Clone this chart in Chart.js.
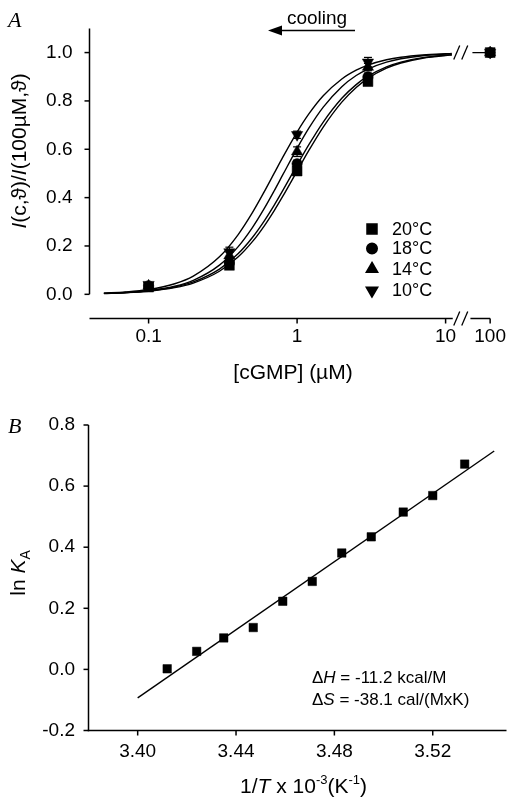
<!DOCTYPE html>
<html><head><meta charset="utf-8">
<script src="https://cdn.jsdelivr.net/npm/chart.js@4.4.1/dist/chart.umd.min.js"></script>
<style>
html,body{margin:0;padding:0;background:#fff;}
#wrap{position:relative;width:513px;height:798px;overflow:hidden;background:#fff;}
#c1{position:absolute;left:0;top:0;}
#c2{position:absolute;left:0;top:398px;}
</style></head><body>
<div id="wrap"><canvas id="c1" width="513" height="398"></canvas><canvas id="c2" width="513" height="400"></canvas></div>
<script>
// ---------- Panel A data ----------
const cgmpConc = [0.1, 0.35, 1, 3, 100];
const norm20 = [0.03, 0.12, 0.51, 0.88, 1.0];
const norm18 = [0.035, 0.13, 0.54, 0.90, 1.0];
const norm14 = [0.035, 0.16, 0.59, 0.94, 1.0];
const norm10 = [0.04, 0.175, 0.66, 0.96, 1.0];
const err20 = [0.005, 0.01, 0.015, 0.015, 0];
const err18 = [0.005, 0.01, 0.015, 0.015, 0];
const err14 = [0.005, 0.015, 0.02, 0.015, 0];
const err10 = [0.005, 0.02, 0.015, 0.02, 0];
const tempLabels = ['20°C', '18°C', '14°C', '10°C'];

// fitted curves
const fitConc = [0.05,0.07,0.1,0.15,0.2,0.3,0.4,0.5,0.6,0.7,0.8,1.0,1.2,1.5,2,2.5,3,4,5,7,10,11];
const fit20 = [0.0035,0.0066,0.0129,0.0275,0.0466,0.0954,0.1541,0.2178,0.2825,0.3454,0.4048,0.5096,0.5951,0.6919,0.795,0.8556,0.8934,0.9354,0.9567,0.9767,0.988,0.99];
const fit18 = [0.0039,0.0073,0.0142,0.0303,0.0512,0.1044,0.1675,0.2352,0.3031,0.3682,0.429,0.5344,0.6188,0.7126,0.8108,0.8675,0.9025,0.9411,0.9607,0.9789,0.9891,0.9909];
const fit14 = [0.0038,0.0074,0.015,0.0332,0.0575,0.1206,0.1961,0.2759,0.3543,0.4275,0.4938,0.6038,0.687,0.7742,0.8591,0.905,0.932,0.9606,0.9744,0.9868,0.9935,0.9946];
const fit10 = [0.0051,0.0099,0.02,0.0439,0.0755,0.1552,0.2462,0.3378,0.4235,0.5,0.5664,0.6711,0.7461,0.8212,0.8909,0.9273,0.9484,0.9703,0.9808,0.9901,0.9951,0.996];
const afterBreakConc = [40, 100];
const afterBreakLevel = [1.0, 1.0];

const topXTickConc = [0.04,0.05,0.06,0.07,0.08,0.09,0.1,0.2,0.3,0.4,0.5,0.6,0.7,0.8,0.9,1,2,3,4,5,6,7,8,9,10,60,80,100];
const topXLabelled = [0.1, 1, 10, 100];
const topYTicks = [0,0.1,0.2,0.3,0.4,0.5,0.6,0.7,0.8,0.9,1.0,1.1];
const axisBreak = [11, 40];

// ---------- Panel B data ----------
const invT = [3.412, 3.424, 3.435, 3.447, 3.459, 3.471, 3.483, 3.495, 3.508, 3.520, 3.533];
const lnKA = [0.002, 0.059, 0.103, 0.137, 0.223, 0.288, 0.381, 0.434, 0.515, 0.569, 0.672];
const lineInvT = [3.40, 3.545];
const lineLnKA = [-0.093, 0.715];
const botXTicks = [3.38,3.40,3.42,3.44,3.46,3.48,3.50,3.52,3.54];
const botXLabelled = [3.40, 3.44, 3.48, 3.52];
const botYTicks = [-0.2,-0.1,0,0.1,0.2,0.3,0.4,0.5,0.6,0.7,0.8];

// ---------- helpers ----------
const SANS = '"Liberation Sans", Arial, "DejaVu Sans", sans-serif';
const SERIF = '"Liberation Serif", "Times New Roman", serif';
function toU(c) { return c <= 11 ? Math.log10(c) : 1.30 - (2 - Math.log10(c)) * 0.3; }
const isEvenTenth = v => Math.round(v * 10) % 2 === 0;

function drawRich(ctx, parts, cx, cy, rot) {
  ctx.save();
  ctx.translate(cx, cy);
  if (rot) ctx.rotate(-Math.PI / 2);
  let w = 0;
  parts.forEach(p => { ctx.font = p.f; p.w = ctx.measureText(p.t).width; w += p.w; });
  let x = -w / 2;
  ctx.textBaseline = 'alphabetic'; ctx.textAlign = 'left'; ctx.fillStyle = '#000';
  parts.forEach(p => { ctx.font = p.f; ctx.fillText(p.t, x, p.dy || 0); x += p.w; });
  ctx.restore();
}
function drawRichLeft(ctx, parts, x, y) {
  ctx.save();
  ctx.textBaseline = 'alphabetic'; ctx.textAlign = 'left'; ctx.fillStyle = '#000';
  parts.forEach(p => { ctx.font = p.f; ctx.fillText(p.t, x, y + (p.dy || 0)); x += ctx.measureText(p.t).width; });
  ctx.restore();
}
function line(ctx, x1, y1, x2, y2) { ctx.beginPath(); ctx.moveTo(x1, y1); ctx.lineTo(x2, y2); ctx.stroke(); }
function slashPair(ctx, x0, y) {
  [x0, x0 + 8].forEach(cx => line(ctx, cx - 3, y + 7, cx + 3, y - 7));
}

Chart.defaults.font.family = SANS;
Chart.defaults.color = '#000';

// ---------- Panel A ----------
const markerStyles = [
  {pointStyle: 'rect', radius: 7, rotation: 0},
  {pointStyle: 'circle', radius: 5.2, rotation: 0},
  {pointStyle: 'triangle', radius: 6.5, rotation: 0},
  {pointStyle: 'triangle', radius: 6.5, rotation: 180}
];
const normSets = [norm20, norm18, norm14, norm10];
const errSets = [err20, err18, err14, err10];
const fitSets = [fit20, fit18, fit14, fit10];

const datasetsA = [];
normSets.forEach((arr, k) => {
  datasetsA.push({
    label: tempLabels[k],
    data: cgmpConc.map((c, i) => ({x: toU(c), y: arr[i]})),
    showLine: false,
    pointStyle: markerStyles[k].pointStyle,
    pointRotation: markerStyles[k].rotation,
    pointRadius: markerStyles[k].radius,
    pointBackgroundColor: '#000', pointBorderColor: '#000', pointBorderWidth: 0.5,
    errors: errSets[k],
    clip: false, order: 1
  });
});
fitSets.forEach((arr, k) => {
  datasetsA.push({
    label: 'fit ' + tempLabels[k],
    data: fitConc.map((c, i) => ({x: toU(c), y: arr[i]})),
    borderColor: '#000', borderWidth: 1.4, pointRadius: 0,
    cubicInterpolationMode: 'monotone', fill: false, order: 3
  });
});
datasetsA.push({
  label: 'after break',
  data: afterBreakConc.map((c, i) => ({x: toU(c), y: afterBreakLevel[i]})),
  borderColor: '#000', borderWidth: 1.4, pointRadius: 0, fill: false, order: 3
});

const decorA = {
  id: 'decorA',
  beforeDatasetsDraw(chart) {
    const ctx = chart.ctx, xs = chart.scales.x, ys = chart.scales.y;
    ctx.save(); ctx.strokeStyle = '#000'; ctx.lineWidth = 1.2;
    chart.data.datasets.forEach(ds => {
      if (!ds.errors) return;
      ds.data.forEach((p, i) => {
        const e = ds.errors[i]; if (!e) return;
        const x = xs.getPixelForValue(p.x);
        const y1 = ys.getPixelForValue(p.y - e), y2 = ys.getPixelForValue(p.y + e);
        line(ctx, x, y1, x, y2); line(ctx, x - 4, y1, x + 4, y1); line(ctx, x - 4, y2, x + 4, y2);
      });
    });
    ctx.restore();
  },
  afterDraw(chart) {
    const ctx = chart.ctx, xs = chart.scales.x, ys = chart.scales.y, a = chart.chartArea;
    ctx.save();
    ctx.strokeStyle = '#000'; ctx.fillStyle = '#000'; ctx.lineWidth = 1.5;
    // y axis
    const yTop = ys.getPixelForValue(1.1), yZero = ys.getPixelForValue(0);
    line(ctx, a.left, yTop, a.left, yZero);
    ys.ticks.forEach(t => {
      const y = ys.getPixelForValue(t.value);
      const len = t.label ? 5 : 3;
      line(ctx, a.left - len, y, a.left, y);
    });
    // x axis with break
    const xb1 = xs.getPixelForValue(toU(axisBreak[0]));
    const xb2 = xs.getPixelForValue(toU(axisBreak[1]));
    const yb = a.bottom;
    line(ctx, a.left, yb, xb1 + 1, yb);
    line(ctx, xb2 - 2, yb, a.right, yb);
    xs.ticks.forEach(t => {
      const x = xs.getPixelForValue(t.value);
      const len = t.label ? 5 : 3;
      line(ctx, x, yb, x, yb + len);
    });
    ctx.lineWidth = 1.3;
    slashPair(ctx, xb1 + 5, yb);
    slashPair(ctx, xb1 + 5, ys.getPixelForValue(1.0));
    // axis titles
    drawRich(ctx, [{t: '[cGMP] (µM)', f: '21px ' + SANS}], 293, 379, false);
    drawRich(ctx, [
      {t: 'I', f: 'italic 21px ' + SANS}, {t: '(c,ϑ)/', f: '21px ' + SANS},
      {t: 'I', f: 'italic 21px ' + SANS}, {t: '(100µM,ϑ)', f: '21px ' + SANS}
    ], 26, 151, true);
    // panel letter
    ctx.font = 'italic 22px ' + SERIF; ctx.textAlign = 'left'; ctx.textBaseline = 'alphabetic';
    ctx.fillText('A', 8, 27);
    // cooling arrow
    ctx.font = '19px ' + SANS; ctx.textAlign = 'center';
    ctx.fillText('cooling', 317, 24);
    ctx.lineWidth = 1.6;
    line(ctx, 355, 30.5, 278, 30.5);
    ctx.beginPath(); ctx.moveTo(268, 30.5); ctx.lineTo(282, 25.5); ctx.lineTo(282, 35.5); ctx.closePath(); ctx.fill();
    // legend
    const rows = [229, 248.5, 269, 290.5];
    chart.data.datasets.slice(0, 4).forEach((ds, k) => {
      ctx.fillStyle = '#000'; ctx.strokeStyle = '#000';
      Chart.helpers.drawPoint(ctx, {pointStyle: ds.pointStyle, rotation: ds.pointRotation, radius: ds.pointRadius, borderWidth: 0.5}, 372, rows[k]);
      ctx.font = '18px ' + SANS; ctx.textAlign = 'left'; ctx.textBaseline = 'middle';
      ctx.fillText(ds.label, 392, rows[k] + 1);
    });
    ctx.restore();
  }
};

new Chart(document.getElementById('c1'), {
  type: 'line',
  data: {datasets: datasetsA},
  options: {
    responsive: false, animation: false, devicePixelRatio: 1,
    layout: {padding: {left: 0, top: 11, right: 16, bottom: 0}},
    plugins: {legend: {display: false}, tooltip: {enabled: false}},
    scales: {
      x: {
        type: 'linear', min: toU(0.04), max: toU(100),
        afterBuildTicks: s => { s.ticks = topXTickConc.map(c => ({value: toU(c)})); },
        afterFit: s => { s.height = 398 - 318.5; },
        ticks: {
          autoSkip: false, maxRotation: 0, minRotation: 0, padding: 7,
          font: {size: 19}, color: '#000',
          callback: (v, i) => topXLabelled.includes(topXTickConc[i]) ? String(topXTickConc[i]) : null
        },
        grid: {display: false, drawTicks: false}, border: {display: false}
      },
      y: {
        type: 'linear', min: -0.1, max: 1.1,
        afterBuildTicks: s => { s.ticks = topYTicks.map(v => ({value: v})); },
        afterFit: s => { s.width = 89.5; },
        ticks: {
          autoSkip: false, padding: 17, font: {size: 19}, color: '#000',
          callback: v => isEvenTenth(v) ? v.toFixed(1) : null
        },
        grid: {display: false, drawTicks: false}, border: {display: false}
      }
    }
  },
  plugins: [decorA]
});

// ---------- Panel B ----------
const decorB = {
  id: 'decorB',
  afterDraw(chart) {
    const ctx = chart.ctx, xs = chart.scales.x, ys = chart.scales.y, a = chart.chartArea;
    ctx.save();
    ctx.strokeStyle = '#000'; ctx.fillStyle = '#000'; ctx.lineWidth = 1.5;
    line(ctx, a.left, a.top, a.left, a.bottom + 0.75);
    line(ctx, a.left - 0.75, a.bottom, a.right, a.bottom);
    ys.ticks.forEach(t => {
      const y = ys.getPixelForValue(t.value);
      line(ctx, a.left - (t.label ? 5 : 3), y, a.left, y);
    });
    xs.ticks.forEach(t => {
      const x = xs.getPixelForValue(t.value);
      line(ctx, x, a.bottom, x, a.bottom + (t.label ? 5 : 4));
    });
    // titles
    drawRich(ctx, [
      {t: 'ln ', f: '21px ' + SANS}, {t: 'K', f: 'italic 21px ' + SANS}, {t: 'A', f: '14px ' + SANS, dy: 5}
    ], 25, 175, true);
    drawRich(ctx, [
      {t: '1/', f: '21px ' + SANS}, {t: 'T', f: 'italic 21px ' + SANS}, {t: ' x 10', f: '21px ' + SANS},
      {t: '-3', f: '13px ' + SANS, dy: -9}, {t: '(K', f: '21px ' + SANS},
      {t: '-1', f: '13px ' + SANS, dy: -9}, {t: ')', f: '21px ' + SANS}
    ], 303.5, 395, false);
    // annotations
    drawRichLeft(ctx, [{t: 'Δ', f: '17px ' + SANS}, {t: 'H', f: 'italic 17px ' + SANS}, {t: ' = -11.2 kcal/M', f: '17px ' + SANS}], 312, 284.5);
    drawRichLeft(ctx, [{t: 'Δ', f: '17px ' + SANS}, {t: 'S', f: 'italic 17px ' + SANS}, {t: ' = -38.1 cal/(MxK)', f: '17px ' + SANS}], 312, 307);
    ctx.font = 'italic 22px ' + SERIF; ctx.textAlign = 'left'; ctx.textBaseline = 'alphabetic';
    ctx.fillText('B', 8, 35);
    ctx.restore();
  }
};

new Chart(document.getElementById('c2'), {
  type: 'line',
  data: {datasets: [
    {label: 'ln KA', data: invT.map((x, i) => ({x, y: lnKA[i]})), showLine: false,
     pointStyle: 'rect', pointRadius: 6, pointBackgroundColor: '#000', pointBorderColor: '#000', pointBorderWidth: 0.5,
     clip: false, order: 1},
    {label: 'fit', data: lineInvT.map((x, i) => ({x, y: lineLnKA[i]})), borderColor: '#000', borderWidth: 1.4,
     pointRadius: 0, fill: false, order: 2}
  ]},
  options: {
    responsive: false, animation: false, devicePixelRatio: 1,
    layout: {padding: {left: 0, top: 27, right: 0.5, bottom: 0}},
    plugins: {legend: {display: false}, tooltip: {enabled: false}},
    scales: {
      x: {
        type: 'linear', min: 3.38, max: 3.55,
        afterBuildTicks: s => { s.ticks = botXTicks.map(v => ({value: v})); },
        afterFit: s => { s.height = 400 - 332.5; },
        ticks: {
          autoSkip: false, maxRotation: 0, minRotation: 0, padding: 10, font: {size: 19}, color: '#000',
          callback: (v, i) => botXLabelled.includes(botXTicks[i]) ? botXTicks[i].toFixed(2) : null
        },
        grid: {display: false, drawTicks: false}, border: {display: false}
      },
      y: {
        type: 'linear', min: -0.2, max: 0.8,
        afterBuildTicks: s => { s.ticks = botYTicks.map(v => ({value: v})); },
        afterFit: s => { s.width = 88.5; },
        ticks: {
          autoSkip: false, padding: 13.5, font: {size: 19}, color: '#000',
          callback: v => isEvenTenth(v) ? v.toFixed(1) : null
        },
        grid: {display: false, drawTicks: false}, border: {display: false}
      }
    }
  },
  plugins: [decorB]
});
</script>
</body></html>
